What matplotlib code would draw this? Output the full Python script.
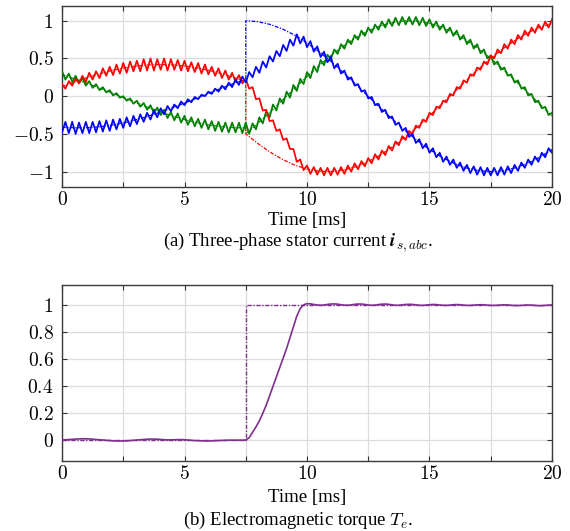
import numpy as np
import matplotlib
matplotlib.use("Agg")
import matplotlib.pyplot as plt
from matplotlib.ticker import FuncFormatter, MultipleLocator

plt.rcParams['font.family'] = ['Liberation Serif', 'DejaVu Serif']
plt.rcParams['mathtext.fontset'] = 'cm'

# measured stator currents, one sample every 20/144 ms (0 .. 20 ms)
ia = [0.16, 0.10, 0.20, 0.14, 0.23, 0.17, 0.27, 0.19, 0.31, 0.22,
      0.33, 0.24, 0.37, 0.27, 0.39, 0.28, 0.42, 0.30, 0.44, 0.31,
      0.46, 0.33, 0.47, 0.33, 0.49, 0.34, 0.50, 0.34, 0.49, 0.35,
      0.50, 0.34, 0.49, 0.35, 0.48, 0.34, 0.47, 0.33, 0.45, 0.32,
      0.44, 0.30, 0.42, 0.29, 0.39, 0.27, 0.37, 0.24, 0.34, 0.22,
      0.31, 0.19, 0.28, 0.17, 0.23, 0.10, 0.12, -0.04, -0.03, -0.19,
      -0.18, -0.33, -0.32, -0.46, -0.44, -0.58, -0.56, -0.70, -0.70, -0.87,
      -0.84, -0.98, -0.92, -1.03, -0.94, -1.04, -0.95, -1.05, -0.95, -1.05,
      -0.95, -1.04, -0.94, -1.03, -0.92, -1.00, -0.89, -0.97, -0.86, -0.93,
      -0.82, -0.89, -0.77, -0.84, -0.72, -0.78, -0.66, -0.72, -0.60, -0.65,
      -0.53, -0.58, -0.46, -0.50, -0.39, -0.42, -0.31, -0.34, -0.22, -0.25,
      -0.14, -0.16, -0.06, -0.08, 0.03, 0.01, 0.12, 0.10, 0.21, 0.18,
      0.29, 0.27, 0.38, 0.35, 0.46, 0.42, 0.54, 0.50, 0.62, 0.57,
      0.69, 0.63, 0.75, 0.69, 0.81, 0.75, 0.87, 0.80, 0.91, 0.84,
      0.95, 0.88, 0.99, 0.91, 1.02]

ib = [-0.48, -0.34, -0.49, -0.34, -0.50, -0.35, -0.49, -0.34, -0.49, -0.34,
      -0.48, -0.33, -0.47, -0.32, -0.46, -0.31, -0.44, -0.30, -0.42, -0.28,
      -0.40, -0.26, -0.37, -0.24, -0.34, -0.22, -0.31, -0.19, -0.28, -0.16,
      -0.24, -0.13, -0.20, -0.11, -0.16, -0.07, -0.12, -0.04, -0.08, -0.01,
      -0.04, 0.02, 0.00, 0.06, 0.03, 0.10, 0.06, 0.14, 0.09, 0.18,
      0.12, 0.22, 0.15, 0.26, 0.18, 0.32, 0.25, 0.39, 0.31, 0.46,
      0.38, 0.53, 0.46, 0.60, 0.53, 0.68, 0.60, 0.75, 0.67, 0.82,
      0.70, 0.79, 0.65, 0.73, 0.59, 0.66, 0.52, 0.59, 0.45, 0.52,
      0.37, 0.43, 0.30, 0.34, 0.22, 0.25, 0.14, 0.16, 0.06, 0.08,
      -0.03, -0.01, -0.12, -0.10, -0.21, -0.18, -0.29, -0.27, -0.38, -0.35,
      -0.46, -0.42, -0.54, -0.50, -0.62, -0.57, -0.69, -0.63, -0.75, -0.69,
      -0.81, -0.75, -0.87, -0.80, -0.91, -0.84, -0.95, -0.88, -0.99, -0.91,
      -1.02, -0.93, -1.04, -0.94, -1.05, -0.95, -1.05, -0.95, -1.05, -0.94,
      -1.04, -0.93, -1.02, -0.91, -0.99, -0.88, -0.95, -0.84, -0.91, -0.80,
      -0.87, -0.75, -0.81, -0.69, -0.75]

ic = [0.33, 0.22, 0.30, 0.19, 0.27, 0.17, 0.24, 0.14, 0.20, 0.11,
      0.16, 0.08, 0.12, 0.05, 0.08, 0.01, 0.04, -0.02, 0.00, -0.06,
      -0.03, -0.10, -0.06, -0.14, -0.09, -0.18, -0.12, -0.22, -0.15, -0.25,
      -0.18, -0.29, -0.21, -0.32, -0.23, -0.35, -0.26, -0.38, -0.28, -0.40,
      -0.30, -0.42, -0.31, -0.44, -0.33, -0.46, -0.34, -0.47, -0.35, -0.48,
      -0.35, -0.48, -0.35, -0.49, -0.35, -0.50, -0.36, -0.44, -0.28, -0.36,
      -0.20, -0.28, -0.11, -0.19, -0.03, -0.10, 0.06, -0.02, 0.15, 0.07,
      0.23, 0.16, 0.32, 0.24, 0.40, 0.32, 0.48, 0.41, 0.55, 0.49,
      0.62, 0.56, 0.69, 0.63, 0.75, 0.69, 0.81, 0.75, 0.87, 0.80,
      0.91, 0.84, 0.95, 0.88, 0.99, 0.91, 1.02, 0.93, 1.04, 0.94,
      1.05, 0.95, 1.05, 0.95, 1.05, 0.94, 1.04, 0.93, 1.02, 0.91,
      0.99, 0.88, 0.95, 0.84, 0.91, 0.80, 0.87, 0.75, 0.81, 0.69,
      0.75, 0.63, 0.69, 0.57, 0.62, 0.50, 0.54, 0.42, 0.46, 0.35,
      0.38, 0.27, 0.29, 0.18, 0.21, 0.10, 0.12, 0.01, 0.03, -0.08,
      -0.06, -0.16, -0.14, -0.25, -0.22]

# current references, every 0.5 ms with the step at 7.5 ms listed twice
t_ref = [0, 0.5, 1, 1.5, 2, 2.5, 3, 3.5, 4, 4.5, 5, 5.5, 6, 6.5, 7, 7.5,
         7.5, 8, 8.5, 9, 9.5, 10, 10.5, 11, 11.5, 12, 12.5, 13, 13.5, 14,
         14.5, 15, 15.5, 16, 16.5, 17, 17.5, 18, 18.5, 19, 19.5, 20]
ia_ref = [0.126, 0.187, 0.244, 0.294, 0.338, 0.373, 0.398, 0.414, 0.420, 0.415,
          0.401, 0.376, 0.342, 0.300, 0.250, 0.194,
          -0.500, -0.629, -0.743, -0.839, -0.914, -0.966, -0.995, -0.999, -0.978,
          -0.934, -0.866, -0.777, -0.669, -0.545, -0.407, -0.259, -0.105, 0.052,
          0.208, 0.358, 0.500, 0.629, 0.743, 0.839, 0.914, 0.966]
ib_ref = [-0.410, -0.419, -0.418, -0.407, -0.385, -0.354, -0.315, -0.267, -0.213,
          -0.154, -0.091, -0.026, 0.040, 0.105, 0.167, 0.226,
          1.000, 0.988, 0.951, 0.891, 0.809, 0.707, 0.588, 0.454, 0.309, 0.156,
          0.000, -0.156, -0.309, -0.454, -0.588, -0.707, -0.809, -0.891, -0.951,
          -0.988, -1.000, -0.988, -0.951, -0.891, -0.809, -0.707]
ic_ref = [0.284, 0.232, 0.174, 0.112, 0.048, -0.018, -0.084, -0.147, -0.207,
          -0.261, -0.310, -0.350, -0.382, -0.405, -0.417, -0.420,
          -0.500, -0.358, -0.208, -0.052, 0.105, 0.259, 0.407, 0.545, 0.669,
          0.777, 0.866, 0.934, 0.978, 0.999, 0.995, 0.966, 0.914, 0.839, 0.743,
          0.629, 0.500, 0.358, 0.208, 0.052, -0.105, -0.259]

# electromagnetic torque, same sampling as the currents
te = [0.004, 0.005, 0.006, 0.008, 0.010, 0.011, 0.012, 0.012, 0.011, 0.009,
      0.007, 0.005, 0.003, 0.001, -0.001, -0.003, -0.004, -0.004, -0.004, -0.003,
      -0.001, 0.001, 0.003, 0.005, 0.007, 0.009, 0.010, 0.010, 0.009, 0.007,
      0.005, 0.004, 0.004, 0.005, 0.006, 0.006, 0.005, 0.003, 0.001, -0.001,
      -0.002, -0.003, -0.004, -0.004, -0.003, -0.002, -0.001, 0.000, 0.001, 0.002,
      0.002, 0.002, 0.002, 0.002, 0.003, 0.02, 0.06, 0.10, 0.145, 0.20,
      0.26, 0.33, 0.40, 0.47, 0.54, 0.61, 0.68, 0.76, 0.84, 0.92,
      0.975, 1.003, 1.012, 1.010, 1.006, 1.002, 1.000, 1.002, 1.006, 1.009,
      1.010, 1.008, 1.004, 1.001, 1.000, 1.003, 1.007, 1.009, 1.009, 1.006,
      1.002, 1.000, 1.001, 1.005, 1.008, 1.009, 1.007, 1.003, 1.000, 1.000,
      1.003, 1.006, 1.007, 1.006, 1.003, 1.000, 0.999, 1.001, 1.004, 1.006,
      1.005, 1.002, 1.000, 0.999, 1.001, 1.004, 1.005, 1.004, 1.001, 0.999,
      0.999, 1.001, 1.003, 1.004, 1.003, 1.001, 0.999, 0.999, 1.000, 1.002,
      1.003, 1.002, 1.000, 0.998, 0.998, 0.999, 1.001, 1.002, 1.001, 0.999,
      0.997, 0.997, 0.999, 1.001, 1.002]
t_te_ref = [0, 7.5, 7.5, 20]
te_ref = [0, 0, 1, 1]

t = np.linspace(0, 20, len(ia))
t_te = np.linspace(0, 20, len(te))

purple = '#7e2f8e'
dashdot = (0, (3, 1.2, 1, 1.2))

fig = plt.figure(figsize=(5.7, 5.31), dpi=100)
ax1 = fig.add_axes([0.1088, 0.6484, 0.8596, 0.3409])
ax2 = fig.add_axes([0.1088, 0.1324, 0.8596, 0.3309])

# references underneath
ax1.plot(t_ref, ic_ref, color='#008000', lw=0.9, ls=dashdot, zorder=2)
ax1.plot(t_ref, ia_ref, color='red', lw=0.9, ls=dashdot, zorder=2)
ax1.plot(t_ref, ib_ref, color='blue', lw=0.9, ls=dashdot, zorder=2)
ax1.plot(t, ic, color='#008000', lw=1.25, zorder=3)
ax1.plot(t, ia, color='red', lw=1.25, zorder=3)
ax1.plot(t, ib, color='blue', lw=1.25, zorder=3)
ax1.set_ylim(-1.2, 1.2)
ax1.yaxis.set_major_locator(MultipleLocator(0.5))

ax2.plot(t_te, te, color=purple, lw=1.2, zorder=3)
ax2.plot(t_te_ref, te_ref, color=purple, lw=1.0, ls=dashdot, zorder=4)
ax2.set_ylim(-0.15, 1.15)
ax2.yaxis.set_major_locator(MultipleLocator(0.2))

xfmt = FuncFormatter(lambda v, p: f'${v:.0f}$' if abs(v / 5 - round(v / 5)) < 1e-6 else '')
yfmt = FuncFormatter(lambda v, p: f'${v:g}$' if abs(v) > 1e-9 else '$0$')

for ax in (ax1, ax2):
    ax.set_xlim(0, 20)
    ax.xaxis.set_major_locator(MultipleLocator(2.5))
    ax.xaxis.set_major_formatter(xfmt)
    ax.yaxis.set_major_formatter(yfmt)
    ax.grid(True, color='#dcdcdc', lw=0.9, zorder=0)
    ax.set_axisbelow(True)
    ax.tick_params(direction='in', length=3.5, width=0.8, color='#333333',
                   top=True, right=True, labelsize=14)
    ax.tick_params(axis='x', pad=3)
    ax.tick_params(axis='y', pad=6)
    for s in ax.spines.values():
        s.set_color('#3a3a3a')
        s.set_linewidth(1.0)

fig.text(0.5386, 0.5772, 'Time [ms]', ha='center', va='baseline', fontsize=13.5)
fig.text(0.523, 0.5358, r'(a) Three-phase stator current $\boldsymbol{i}_{s,abc}$.',
         ha='center', va='baseline', fontsize=13.5)
fig.text(0.5386, 0.0537, 'Time [ms]', ha='center', va='baseline', fontsize=13.5)
fig.text(0.523, 0.0122, r'(b) Electromagnetic torque $T_e$.',
         ha='center', va='baseline', fontsize=13.5)

fig.savefig('out.png', dpi=100)
